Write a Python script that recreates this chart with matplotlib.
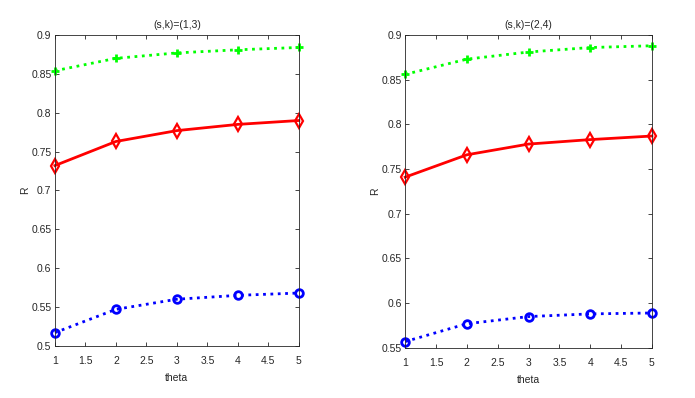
import matplotlib.pyplot as plt

plt.rcParams['font.family'] = ['Liberation Sans', 'DejaVu Sans']

theta = [1, 2, 3, 4, 5]

# (s,k) = (1,3)
green_13 = [0.854, 0.870, 0.877, 0.881, 0.884]
red_13 = [0.732, 0.763, 0.777, 0.785, 0.790]
blue_13 = [0.517, 0.547, 0.560, 0.565, 0.568]

# (s,k) = (2,4)
green_24 = [0.856, 0.873, 0.881, 0.886, 0.888]
red_24 = [0.741, 0.766, 0.778, 0.783, 0.787]
blue_24 = [0.557, 0.577, 0.585, 0.588, 0.589]

titles = ['(s,k)=(1,3)', '(s,k)=(2,4)']
ylims = [(0.5, 0.9), (0.55, 0.9)]
yticks = [[0.5, 0.55, 0.6, 0.65, 0.7, 0.75, 0.8, 0.85, 0.9],
          [0.55, 0.6, 0.65, 0.7, 0.75, 0.8, 0.85, 0.9]]
xticks = [1, 1.5, 2, 2.5, 3, 3.5, 4, 4.5, 5]

fig = plt.figure(figsize=(6.95, 3.98), dpi=100)
ax1 = fig.add_axes([0.079, 0.131, 0.351, 0.781])
ax2 = fig.add_axes([0.583, 0.126, 0.355, 0.786])

data = [(green_13, red_13, blue_13), (green_24, red_24, blue_24)]

for ax, (g, r, b), title, yl, yt in zip([ax1, ax2], data, titles, ylims, yticks):
    ax.plot(theta, g, linestyle=':', color='#00ff00', linewidth=2,
            marker='+', markersize=6, markeredgewidth=2, clip_on=False)
    ax.plot(theta, r, linestyle='-', color='red', linewidth=2,
            marker='d', markersize=7, markerfacecolor='none', markeredgewidth=1.6,
            clip_on=False)
    ax.plot(theta, b, linestyle=':', color='blue', linewidth=2,
            marker='o', markersize=5.5, markerfacecolor='none', markeredgewidth=2,
            clip_on=False)
    ax.set_xlim(1, 5)
    ax.set_ylim(*yl)
    ax.set_xticks(xticks)
    ax.set_xticklabels([('%g' % v) for v in xticks])
    ax.set_yticks(yt)
    ax.set_yticklabels([('%g' % v) for v in yt])
    ax.tick_params(direction='in', top=True, right=True, labelsize=7.5,
                   colors='#262626', length=3, width=0.6)
    ax.tick_params(axis='x', pad=7)
    ax.tick_params(axis='y', pad=2.5)
    for s in ax.spines.values():
        s.set_color('#262626')
        s.set_linewidth(0.6)
    ax.set_title(title, fontsize=7.5, color='#262626', pad=5)
    ax.set_xlabel('theta', fontsize=7.5, color='#262626', labelpad=5)
    ax.set_ylabel('R', fontsize=7.5, color='#262626', labelpad=1)

plt.savefig('out.png', dpi=100)
